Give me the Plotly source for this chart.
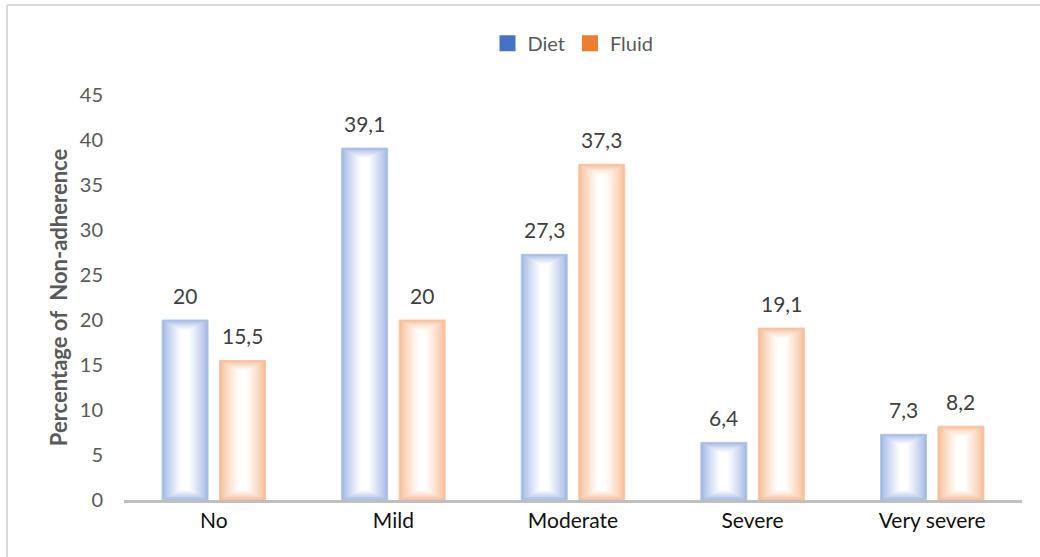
import plotly.graph_objects as go

categories = ["No", "Mild", "Moderate", "Severe", "Very severe"]
diet = [20, 39.1, 27.3, 6.4, 7.3]
fluid = [15.5, 20, 37.3, 19.1, 8.2]
series_names = ["Diet", "Fluid"]
y_ticks = [0, 5, 10, 15, 20, 25, 30, 35, 40, 45]

FONT = "Lato"
W = 0.256          # bar width (category units)
OFF = 0.16         # bar offset from category centre
N = 12             # gradient layers
DX = 1.7 / 179.6   # horizontal inset per layer (units)
DY = 0.9 / 9.0     # vertical inset per layer (units)

styles = {
    "Diet": dict(edge=(160, 182, 228), line="#b4c6ea", legend="#4472c4", off=-OFF),
    "Fluid": dict(edge=(248, 188, 150), line="#f8c7a6", legend="#ed7d31", off=OFF),
}


def blend(c, t):
    return "rgb(%d,%d,%d)" % tuple(round(ci + (255 - ci) * t) for ci in c)


fig = go.Figure()
idx = list(range(len(categories)))
for name, vals in zip(series_names, [diet, fluid]):
    st = styles[name]
    xs = [i + st["off"] for i in idx]
    for k in range(N):
        t = (k / (N - 1)) ** 0.8
        fig.add_trace(go.Bar(
            x=xs,
            y=[v - 2 * k * DY for v in vals],
            base=[k * DY for _ in vals],
            width=W - 2 * k * DX,
            marker=dict(color=blend(st["edge"], t),
                        line=dict(color=st["line"] if k == 0 else "rgba(0,0,0,0)",
                                  width=1 if k == 0 else 0)),
            showlegend=False, hoverinfo="skip",
        ))
    # legend entry
    fig.add_trace(go.Scatter(x=[None], y=[None], name=name, mode="markers",
                             marker=dict(symbol="square", size=20, color=st["legend"]),
                             showlegend=True))
    for x, v in zip(xs, vals):
        fig.add_annotation(x=x, y=v, text=str(v).replace(".", ","),
                           showarrow=False, yshift=25, yanchor="middle",
                           font=dict(family=FONT, size=21, color="#404040"))

# outer frame (top and left edges)
fig.add_shape(type="line", xref="paper", yref="paper",
              x0=-0.1303, x1=1.05, y0=1.222, y1=1.222,
              line=dict(color="#d9d9d9", width=2))
fig.add_shape(type="line", xref="paper", yref="paper",
              x0=-0.1303, x1=-0.1303, y0=1.222, y1=-0.2,
              line=dict(color="#d9d9d9", width=2))

fig.update_layout(
    width=1040, height=557,
    barmode="overlay",
    plot_bgcolor="white", paper_bgcolor="white",
    margin=dict(l=124, r=18, t=95, b=57),
    font=dict(family=FONT, color="#595959"),
    legend=dict(orientation="h", x=0.5, xanchor="center", y=1.128, yanchor="middle",
                font=dict(family=FONT, size=20, color="#595959"),
                itemwidth=30, traceorder="normal", itemsizing="trace"),
    xaxis=dict(range=[-0.5, 4.5], tickvals=idx, ticktext=categories,
               showline=True, linecolor="#bfbfbf", linewidth=2.5,
               showgrid=False, zeroline=False, ticks="",
               tickfont=dict(family=FONT, size=21, color="#111111")),
    yaxis=dict(range=[0, 45], tickvals=y_ticks, showline=False, showgrid=False,
               zeroline=False, ticks="", ticklabelstandoff=20,
               tickfont=dict(family=FONT, size=20, color="#595959"),
               title=dict(text="<b>Percentage of  Non-adherence</b>", standoff=6,
                          font=dict(family=FONT, size=22, color="#595959"))),
)

fig.write_html("out.html", config={"displayModeBar": False},
               post_script="document.body.style.margin='0';document.body.style.overflow='hidden';")
